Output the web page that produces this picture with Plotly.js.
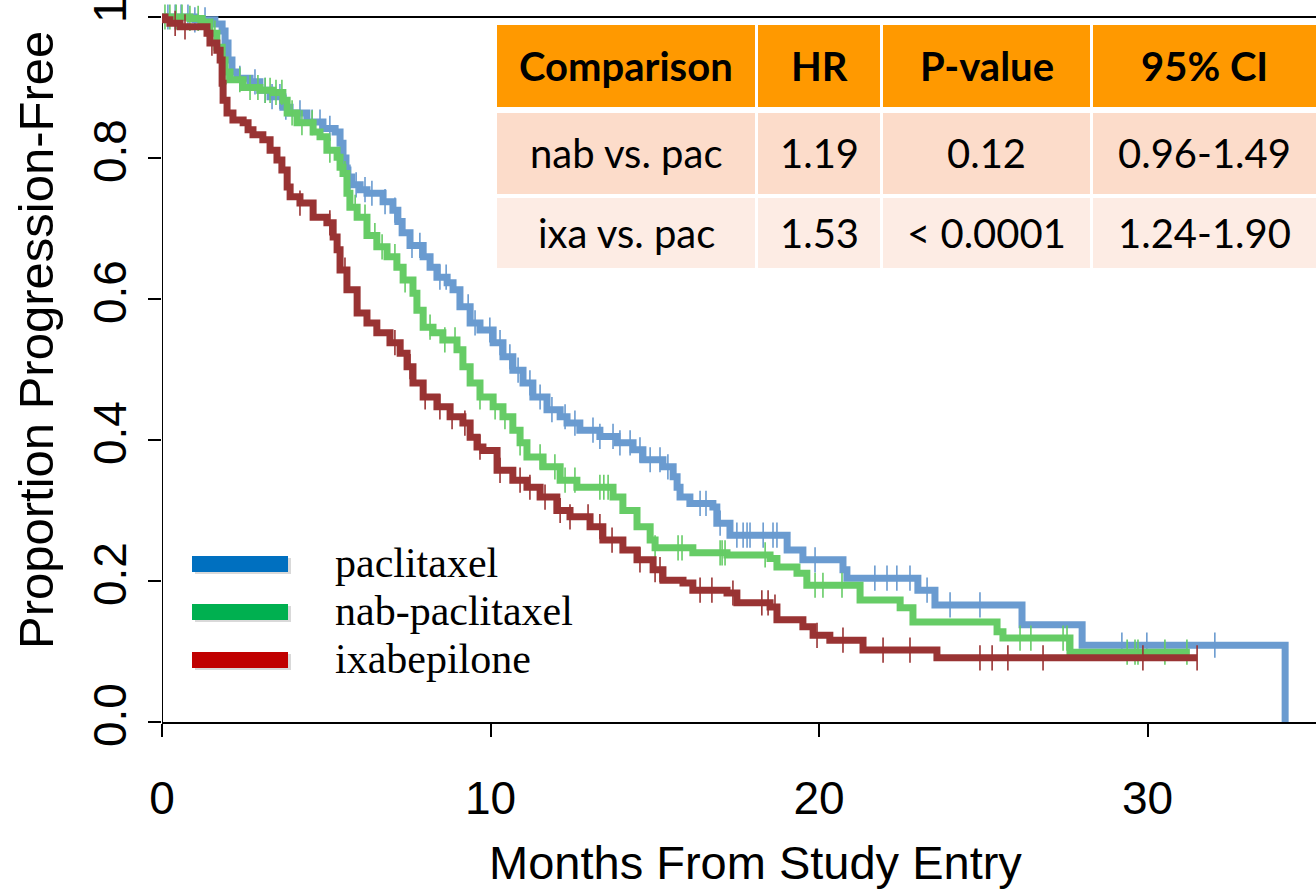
<!DOCTYPE html>
<html><head><meta charset="utf-8">
<script src="https://cdn.plot.ly/plotly-3.0.1.min.js"></script>
<style>html,body{margin:0;padding:0;background:#fff;} #chart{width:1316px;height:891px;}</style>
</head><body><div id="chart"></div>
<script>
// ---------------- DATA ----------------
const seriesNames = ['paclitaxel', 'nab-paclitaxel', 'ixabepilone'];

const pacTime = [0, 1.00, 1.61, 1.83, 1.92, 2.01, 2.13, 2.28, 2.68, 2.98, 3.29, 3.68, 3.90, 4.41, 4.90, 5.27, 5.42, 5.51, 5.60, 5.66, 5.78, 6.03, 6.24, 6.73, 7.03, 7.18, 7.31, 7.55, 7.95, 8.16, 8.37, 8.68, 8.86, 9.07, 9.38, 9.68, 10.08, 10.38, 10.68, 10.99, 11.29, 11.72, 12.12, 12.33, 12.72, 13.33, 13.85, 14.34, 14.64, 15.25, 15.56, 15.68, 15.77, 16.07, 16.77, 16.89, 17.29, 19.03, 19.51, 20.73, 20.85, 23.01, 23.53, 26.18, 28.01, 34.19];
const pacSurv = [1.0, 0.996, 0.99, 0.98, 0.963, 0.939, 0.922, 0.913, 0.908, 0.896, 0.887, 0.872, 0.864, 0.851, 0.842, 0.837, 0.821, 0.80, 0.783, 0.773, 0.762, 0.755, 0.75, 0.738, 0.726, 0.71, 0.694, 0.676, 0.66, 0.645, 0.631, 0.623, 0.613, 0.589, 0.566, 0.556, 0.538, 0.518, 0.499, 0.481, 0.461, 0.443, 0.433, 0.424, 0.414, 0.405, 0.396, 0.386, 0.372, 0.362, 0.348, 0.333, 0.319, 0.31, 0.305, 0.282, 0.265, 0.244, 0.23, 0.216, 0.204, 0.187, 0.166, 0.138, 0.109, 0.0];
const pacCensor = [0.18, 0.40, 0.58, 0.79, 1.00, 1.31, 2.37, 2.83, 3.14, 3.35, 3.59, 3.77, 4.20, 4.57, 4.81, 5.11, 5.72, 5.91, 6.18, 6.39, 6.79, 7.09, 7.61, 7.85, 8.46, 8.65, 9.32, 9.53, 9.98, 10.29, 10.59, 10.84, 11.20, 11.51, 11.87, 12.27, 12.57, 13.12, 13.33, 13.73, 13.94, 14.25, 14.55, 14.86, 15.16, 15.40, 16.38, 16.56, 16.99, 17.50, 17.69, 17.81, 17.90, 18.30, 18.60, 18.72, 19.88, 21.70, 22.07, 22.37, 22.77, 23.29, 23.99, 24.90, 29.22, 29.98, 32.05];

const nabTime = [0, 0.85, 1.22, 1.46, 1.67, 1.83, 1.92, 2.07, 2.47, 2.98, 3.38, 3.68, 3.81, 4.11, 4.60, 4.81, 5.02, 5.33, 5.42, 5.51, 5.63, 5.72, 5.94, 6.24, 6.54, 6.85, 7.15, 7.34, 7.64, 7.76, 7.95, 8.25, 8.55, 8.98, 9.16, 9.38, 9.68, 10.08, 10.38, 10.68, 10.90, 11.11, 11.60, 12.12, 12.63, 13.73, 14.03, 14.46, 14.86, 15.01, 16.16, 17.20, 18.51, 18.72, 19.33, 19.63, 21.25, 22.47, 22.86, 25.42, 25.60, 27.64, 31.29];
const nabSurv = [1.0, 0.998, 0.993, 0.977, 0.957, 0.939, 0.922, 0.911, 0.90, 0.896, 0.893, 0.882, 0.864, 0.85, 0.837, 0.83, 0.811, 0.801, 0.787, 0.778, 0.75, 0.73, 0.716, 0.69, 0.674, 0.66, 0.645, 0.627, 0.608, 0.584, 0.56, 0.552, 0.542, 0.528, 0.504, 0.481, 0.461, 0.447, 0.433, 0.414, 0.396, 0.376, 0.362, 0.343, 0.333, 0.319, 0.30, 0.277, 0.258, 0.247, 0.24, 0.237, 0.232, 0.22, 0.211, 0.194, 0.173, 0.162, 0.142, 0.128, 0.119, 0.099, 0.099];
const nabCensor = [0.09, 0.24, 0.43, 0.61, 0.85, 1.10, 1.61, 1.95, 2.37, 2.68, 2.92, 3.14, 3.29, 3.47, 3.65, 3.96, 4.26, 4.57, 5.11, 5.57, 5.88, 6.18, 6.48, 6.70, 7.09, 7.40, 7.70, 8.16, 8.61, 8.92, 9.68, 10.14, 10.44, 10.90, 11.51, 11.96, 12.27, 12.57, 13.33, 13.45, 13.58, 15.01, 15.71, 15.83, 16.99, 17.05, 17.14, 18.36, 19.88, 20.12, 20.70, 26.12, 26.45, 27.43, 27.55, 29.38, 29.62, 29.71, 30.53, 31.20];

const ixaTime = [0, 0.09, 0.24, 0.55, 1.37, 1.46, 1.67, 1.77, 1.83, 1.86, 1.98, 2.16, 2.47, 2.62, 2.77, 3.07, 3.29, 3.50, 3.65, 3.81, 3.90, 4.20, 4.60, 5.02, 5.21, 5.33, 5.42, 5.63, 5.94, 6.24, 6.54, 6.94, 7.25, 7.46, 7.64, 7.95, 8.37, 8.77, 9.16, 9.38, 9.59, 9.77, 10.20, 10.68, 11.11, 11.51, 12.02, 12.42, 13.03, 13.42, 14.03, 14.46, 14.95, 15.25, 15.86, 16.16, 17.20, 17.50, 18.51, 18.72, 19.51, 19.82, 20.33, 21.34, 23.59, 31.51];
const ixaSurv = [1.0, 0.996, 0.991, 0.986, 0.977, 0.963, 0.953, 0.939, 0.906, 0.882, 0.864, 0.854, 0.85, 0.84, 0.833, 0.826, 0.811, 0.797, 0.783, 0.759, 0.745, 0.736, 0.716, 0.708, 0.688, 0.67, 0.641, 0.613, 0.58, 0.566, 0.552, 0.538, 0.523, 0.504, 0.481, 0.461, 0.447, 0.433, 0.424, 0.404, 0.39, 0.385, 0.357, 0.343, 0.333, 0.319, 0.30, 0.291, 0.277, 0.258, 0.244, 0.23, 0.216, 0.201, 0.197, 0.187, 0.183, 0.169, 0.163, 0.145, 0.135, 0.123, 0.116, 0.102, 0.091, 0.091];
const ixaCensor = [0.40, 0.70, 1.52, 4.20, 5.11, 5.57, 7.09, 7.55, 8.01, 8.46, 8.83, 9.22, 9.68, 10.29, 10.90, 11.20, 11.66, 12.12, 12.42, 12.97, 13.33, 13.70, 14.55, 15.01, 15.16, 16.38, 16.74, 17.38, 18.26, 18.45, 18.66, 19.94, 20.73, 21.95, 22.77, 24.90, 25.27, 25.75, 26.82, 29.86, 31.51];

const xTickVals = [0, 10, 20, 30];
const yTickVals = [0, 0.2, 0.4, 0.6, 0.8, 1];
const yTickText = ['0.0', '0.2', '0.4', '0.6', '0.8', '1'];

const tableHeader = ['Comparison', 'HR', 'P-value', '95% CI'];
const tableRow1 = ['nab vs. pac', '1.19', '0.12', '0.96-1.49'];
const tableRow2 = ['ixa vs. pac', '1.53', '< 0.0001', '1.24-1.90'];

// ---------------- STYLE / LAYOUT ----------------
const W = 1316, H = 891;
const M = {l: 162, r: 0, t: 10, b: 169};
const PW = W - M.l - M.r, PH = H - M.t - M.b;
const pxPerMonth = 32.85, pxPerUnit = 705;
const xMax = PW / pxPerMonth;
const yMax = PH / pxPerUnit;
const px2x = px => (px - M.l) / PW;
const px2y = py => (H - M.b - py) / PH;

const curveColors = ['#6A9BD0', '#66CC66', '#993333'];
const legendColors = ['#0070C0', '#00B050', '#C00000'];

function survAt(times, surv, t) {
  let s = surv[0];
  for (let i = 0; i < times.length; i++) { if (times[i] <= t) s = surv[i]; else break; }
  return s;
}

const groups = [
  {t: pacTime, s: pacSurv, c: pacCensor},
  {t: nabTime, s: nabSurv, c: nabCensor},
  {t: ixaTime, s: ixaSurv, c: ixaCensor}
];

const traces = [];
groups.forEach((g, i) => {
  traces.push({
    x: g.t, y: g.s, type: 'scatter', mode: 'lines',
    line: {shape: 'hv', color: curveColors[i], width: 7},
    showlegend: false, hoverinfo: 'skip', cliponaxis: false
  });
  traces.push({
    x: g.c, y: g.c.map(t => survAt(g.t, g.s, t)), type: 'scatter', mode: 'markers',
    marker: {symbol: 'line-ns-open', size: 18, color: curveColors[i], line: {width: 1.6, color: curveColors[i]}},
    showlegend: false, hoverinfo: 'skip', cliponaxis: false
  });
});

const shapes = [];
const annotations = [];

// top border and left axis line
shapes.push({type: 'line', xref: 'paper', yref: 'y', x0: 0, x1: 1.01, y0: 1, y1: 1, line: {color: '#000', width: 2}, layer: 'below'});
shapes.push({type: 'line', xref: 'x', yref: 'y', x0: 0, x1: 0, y0: 0, y1: 1, line: {color: '#000', width: 2}, layer: 'below'});

// table
const colEdges = [[497, 755], [758, 880], [883, 1090], [1093, 1320]];
const rowEdges = [[25, 107], [113, 194], [198, 268]];
const rowFills = ['#FF9900', '#FCDCCA', '#FDECE4'];
const rowsText = [tableHeader, tableRow1, tableRow2];
rowEdges.forEach((r, ri) => {
  colEdges.forEach((c, ci) => {
    shapes.push({type: 'rect', xref: 'paper', yref: 'paper',
      x0: px2x(c[0]), x1: px2x(c[1]), y0: px2y(r[1]), y1: px2y(r[0]),
      fillcolor: rowFills[ri], line: {width: 0}, layer: 'above'});
    annotations.push({xref: 'paper', yref: 'paper',
      x: px2x((c[0] + Math.min(c[1], 1316)) / 2), y: px2y((r[0] + r[1]) / 2),
      text: ri === 0 ? '<b>' + rowsText[ri][ci] + '</b>' : rowsText[ri][ci],
      showarrow: false, xanchor: 'center', yanchor: 'middle',
      font: {family: 'Lato, "Open Sans", sans-serif', size: 40, color: '#000'}});
  });
});

// legend
const legendY = [564, 612, 660];
legendY.forEach((y, i) => {
  shapes.push({type: 'rect', xref: 'paper', yref: 'paper',
    x0: px2x(195), x1: px2x(291), y0: px2y(y + 10), y1: px2y(y - 6),
    fillcolor: 'rgba(0,0,0,0.15)', line: {width: 0}, layer: 'above'});
  shapes.push({type: 'rect', xref: 'paper', yref: 'paper',
    x0: px2x(192), x1: px2x(288), y0: px2y(y + 8), y1: px2y(y - 8),
    fillcolor: legendColors[i], line: {width: 0}, layer: 'above'});
  annotations.push({xref: 'paper', yref: 'paper', x: px2x(333), y: px2y(y - 1),
    text: seriesNames[i], showarrow: false, xanchor: 'left', yanchor: 'middle',
    font: {family: '"Liberation Serif", "Times New Roman", serif', size: 42, color: '#000'}});
});

// axis titles
annotations.push({xref: 'paper', yref: 'paper', x: px2x(755), y: px2y(862),
  text: 'Months From Study Entry', showarrow: false, xanchor: 'center', yanchor: 'middle',
  font: {family: '"Liberation Sans", Arial, sans-serif', size: 47, color: '#000'}});
annotations.push({xref: 'paper', yref: 'paper', x: px2x(36), y: px2y(340),
  text: 'Proportion Progression-Free', showarrow: false, textangle: -90, xanchor: 'center', yanchor: 'middle',
  font: {family: '"Liberation Sans", Arial, sans-serif', size: 49, color: '#000'}});

const layout = {
  width: W, height: H,
  margin: M,
  paper_bgcolor: '#fff', plot_bgcolor: '#fff',
  showlegend: false,
  xaxis: {
    range: [0, xMax], showgrid: false, zeroline: false,
    showline: true, linecolor: '#000', linewidth: 2,
    tickmode: 'array', tickvals: xTickVals, ticks: 'outside', ticklen: 13, tickwidth: 2, tickcolor: '#000',
    ticklabelstandoff: 22,
    tickfont: {family: '"Liberation Sans", Arial, sans-serif', size: 46, color: '#000'}
  },
  yaxis: {
    range: [0, yMax], showgrid: false, zeroline: false, showline: false,
    tickmode: 'array', tickvals: yTickVals, ticktext: yTickText,
    ticks: 'outside', ticklen: 13, tickwidth: 2, tickcolor: '#000',
    tickangle: -90, ticklabelstandoff: 4, ticklabeloverflow: 'allow',
    tickfont: {family: '"Liberation Sans", Arial, sans-serif', size: 46, color: '#000'}
  },
  shapes: shapes,
  annotations: annotations
};

Plotly.newPlot('chart', traces, layout, {displayModeBar: false, staticPlot: true});
</script>
</body></html>
